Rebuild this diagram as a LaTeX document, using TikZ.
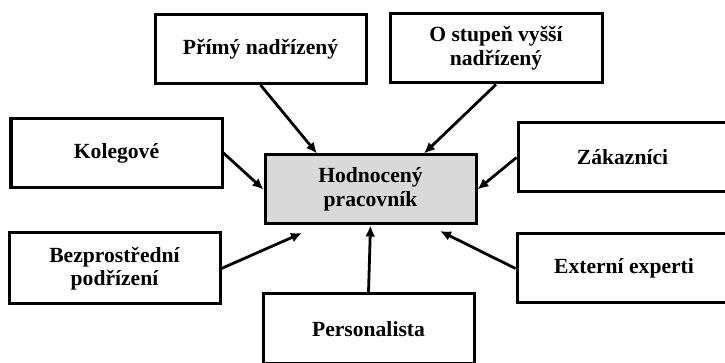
\documentclass[tikz,border=0pt]{standalone}
\usepackage{fontspec}
\setmainfont{Liberation Serif}
\usetikzlibrary{positioning,calc,arrows.meta}
\definecolor{hodgray}{RGB}{217,217,217}

\begin{document}
\begin{tikzpicture}[x=0.5pt, y=-0.5pt,
  rbox/.style={draw=black, fill=white, line width=1.5pt, minimum width=105.5pt, minimum height=34.5pt, align=center, font=\fontsize{10.8}{11.8}\selectfont\bfseries, inner sep=2pt},
  cbox/.style={rbox, fill=hodgray},
  harr/.style={-{Latex[length=5.5pt,width=5pt]}, line width=1.4pt},
]
\useasboundingbox (0,0) rectangle (725,363);
\clip (0,0) rectangle (725,363);
\node[cbox] (hp) at (370.5,189.5) {Hodnocený\\pracovník};
\node[rbox] (pn) at (260.5,49) {Přímý nadřízený};
\node[rbox, minimum width=106pt] (osv) at (496,48.5) {O stupeň vyšší\\nadřízený};
\node[rbox] (kol) at (116.5,153) {Kolegové};
\node[rbox, minimum width=104.5pt] (zak) at (622.5,157.5) {Zákazníci};
\node[rbox, minimum height=35.5pt] (bp) at (114.5,268.5) {Bezprostřední\\podřízení};
\node[rbox, minimum width=107pt] (ee) at (624,268.5) {Externí experti};
\node[rbox, minimum height=35pt] (per) at (368.5,329) {Personalista};
\coordinate (bpend) at (302,233);
\coordinate (eeend) at (440,231);
\draw[harr] (pn.south) -- ($(hp.north west)!0.25!(hp.north east)$);
\draw[harr] (osv.south) -- ($(hp.north west)!0.75!(hp.north east)$);
\draw[harr] (kol.east) -- (hp.west);
\draw[harr] (zak.west) -- (hp.east);
\draw[harr] (bp.east) -- (bpend);
\draw[harr] (ee.west) -- (eeend);
\draw[harr] (per.north) -- (hp.south);
\end{tikzpicture}
\end{document}
